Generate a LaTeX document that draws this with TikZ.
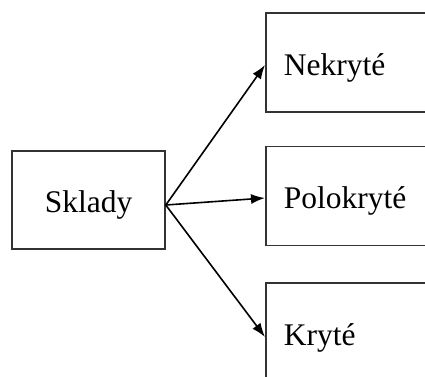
\documentclass[tikz,border=0pt]{standalone}
\usepackage{fontspec}
\setmainfont{Liberation Serif}
\usetikzlibrary{arrows.meta}
\begin{document}
\begin{tikzpicture}[x=1pt,y=-1pt,
  box/.style={draw=black!80, line width=1.6pt, rectangle, inner sep=0pt,
    text height=25pt, text depth=0pt,
    font=\fontsize{31.5}{37}\selectfont},
  leftbox/.style={box, anchor=west, minimum height=99pt, text width=157pt,
    inner xsep=18pt, align=left},
  link/.style={line width=1.6pt, -{Latex[length=14pt,width=10pt]}}]
  \useasboundingbox (0,0) rectangle (425,376);
  \clip (0,0) rectangle (425,376);
  % source box
  \node[box, minimum width=153pt, minimum height=98pt] (sklady) at (88.5,200) {Sklady};
  % target boxes, running past the right edge
  \node[leftbox] (nekryte) at (265,62.5) {Nekryté};
  \node[leftbox] (polokryte) at (265,196) {Polokryté};
  \node[leftbox] (kryte) at (265,332.5) {Kryté};
  % connectors
  \coordinate (src) at ([yshift=-5pt]sklady.east);
  \draw[link] (src) -- ([yshift=-2.5pt]nekryte.west);
  \draw[link] (src) -- ([yshift=-2pt]polokryte.west);
  \draw[link] (src) -- ([yshift=-4.5pt]kryte.west);
\end{tikzpicture}
\end{document}
